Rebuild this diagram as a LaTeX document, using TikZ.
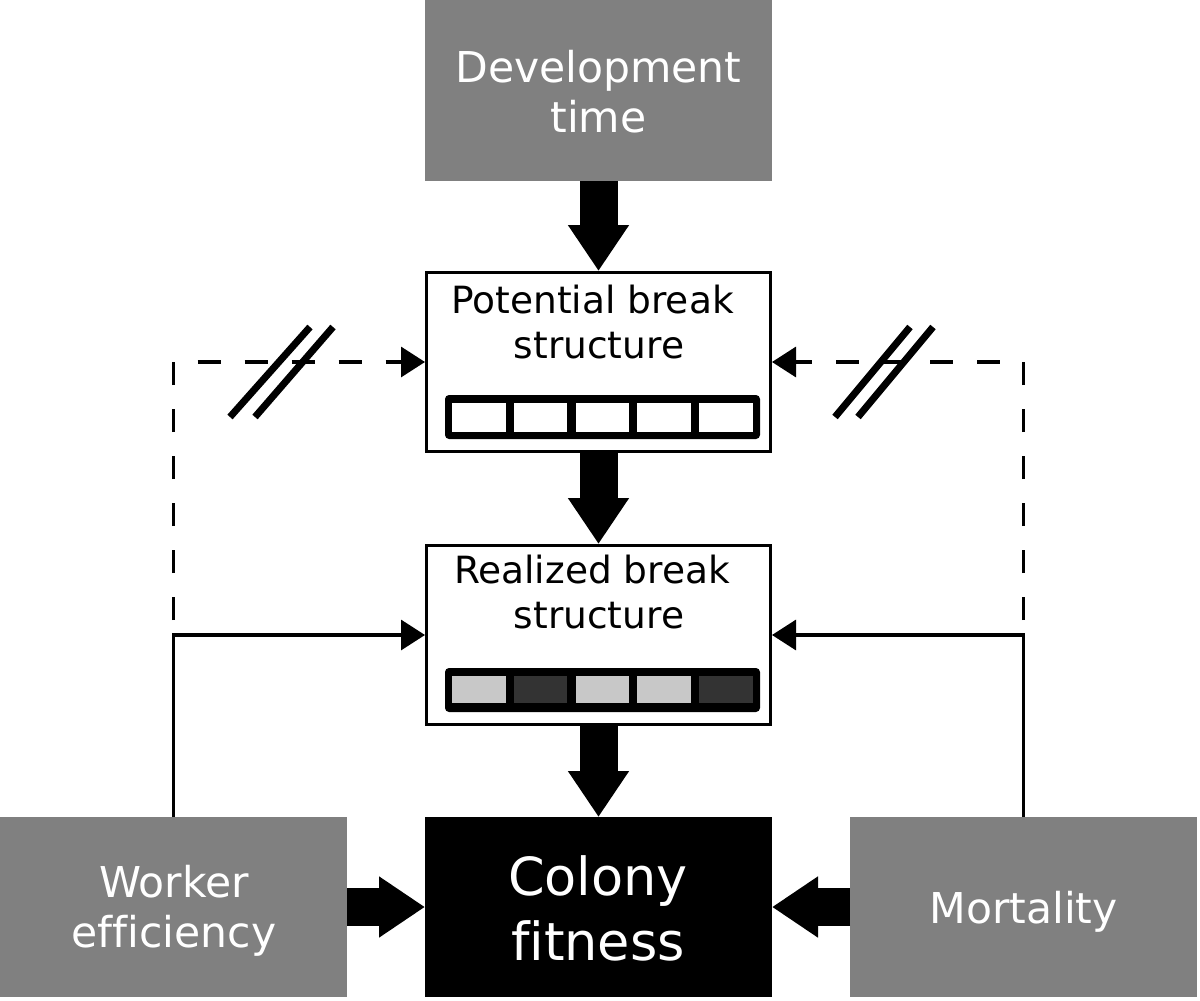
\documentclass[tikz,border=0pt]{standalone}
\usepackage{fontspec}
\setmainfont{DejaVu Sans}[Ligatures={NoCommon}]
\usetikzlibrary{arrows.meta}
\definecolor{boxgray}{HTML}{808080}
\definecolor{cellL}{HTML}{C8C8C8}
\definecolor{cellD}{HTML}{333333}
\begin{document}
\begin{tikzpicture}[x=1pt,y=-1pt,
  fillbox/.style={rectangle, minimum width=347pt, minimum height=181pt, inner sep=0pt, outer sep=0pt},
  linebox/.style={rectangle, draw=black, fill=white, line width=3pt, minimum width=344pt, minimum height=179pt, inner sep=0pt},
  bigarrow/.style={line width=38pt, -{Triangle[width=58pt,length=46pt]}},
  thinarrow/.style={line width=3.2pt, -{Triangle[width=30pt,length=24pt]}},
  dashline/.style={thinarrow, dash pattern=on 23pt off 24pt, dash phase=38pt},
  slash/.style={line width=7pt},
  bar/.style={rectangle, fill=black, rounded corners=4pt, minimum width=315pt, minimum height=44pt, inner sep=0pt},
  txt/.style={anchor=base, inner sep=0pt},
  bigfont/.style={font=\fontsize{42.5}{50}\selectfont},
  midfont/.style={font=\fontsize{37.5}{44}\selectfont},
  hugefont/.style={font=\fontsize{52.5}{65}\selectfont}
]
\useasboundingbox (0,0) rectangle (1200,1001);
\fill[white] (0,0) rectangle (1200,1001);

% boxes
\node[fillbox, fill=boxgray] (dt) at (598.5,90.5) {};
\node[linebox] (pbs) at (598.5,362) {};
\node[linebox] (rbs) at (598.5,635) {};
\node[fillbox, fill=black, minimum height=180pt] (cf) at (598.5,907) {};
\node[fillbox, fill=boxgray, minimum height=180pt] (we) at (173.5,907) {};
\node[fillbox, fill=boxgray, minimum height=180pt] (mo) at (1023.5,907) {};

% texts
\node[txt, bigfont, text=white] (dt1) at (598.5,82) {Development};
\node[txt, bigfont, text=white] (dt2) at (598.5,132) {time};
\node[txt, midfont] (pb1) at (592.5,313) {Potential break};
\node[txt, midfont] (pb2) at (599,358) {structure};
\node[txt, midfont] (rb1) at (592,583) {Realized break};
\node[txt, midfont] (rb2) at (599,628) {structure};
\node[txt, hugefont, text=white] (cf1) at (598,895) {Colony};
\node[txt, hugefont, text=white] (cf2) at (598,960) {fitness};
\node[txt, bigfont, text=white] (we1) at (174,897) {Worker};
\node[txt, bigfont, text=white] (we2) at (174,947) {efficiency};
\node[txt, bigfont, text=white] (mo1) at (1023.5,923) {Mortality};

% bars
\node[bar] (pbar) at (602.5,417) {};
\foreach \i in {0,...,4} {
  \fill[white] (452+61.75*\i,403) rectangle ++(53.5,29);
}
\node[bar] (rbar) at (602.5,690) {};
\foreach \i/\c in {0/cellL,1/cellD,2/cellL,3/cellL,4/cellD} {
  \fill[\c] (452+61.75*\i,676) rectangle ++(53.5,27);
}

% thick arrows
\draw[bigarrow] (dt.south) -- (pbs.north);
\draw[bigarrow] (pbs.south) -- (rbs.north);
\draw[bigarrow] (rbs.south) -- (cf.north);
\draw[bigarrow] (we.east) -- (cf.west);
\draw[bigarrow] (mo.west) -- (cf.east);

% dashed feedback
\draw[dashline] (we.north) |- (pbs.west);
\draw[dashline] (mo.north) |- (pbs.east);
% solid
\draw[thinarrow] (we.north) |- (rbs.west);
\draw[thinarrow] (mo.north) |- (rbs.east);

% slashes
\draw[slash] (230,417) -- (310,327);
\draw[slash] (255,417) -- (333,327);
\draw[slash] (835,417) -- (910,327);
\draw[slash] (858,417) -- (933,327);
\end{tikzpicture}
\end{document}
